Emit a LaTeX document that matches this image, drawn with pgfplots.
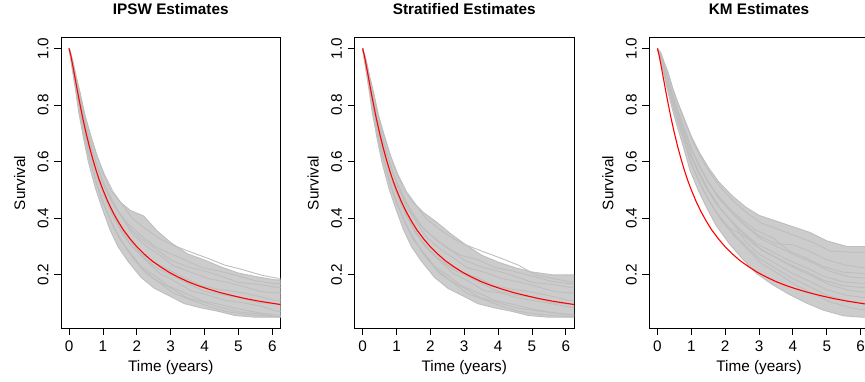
\documentclass[border=0pt]{standalone}
\usepackage{pgfplots}
\pgfplotsset{compat=1.18}
\usepackage{pgfplotstable}
\usepgfplotslibrary{fillbetween}
\usepackage{fontspec}
\setmainfont{Liberation Sans}
\definecolor{rgray}{HTML}{BEBEBE}
\definecolor{bandfill}{HTML}{CCCCCC}

\pgfplotstableread{
t s
0 1
0.05 0.975
0.1 0.944
0.15 0.912
0.2 0.879
0.25 0.846
0.3 0.815
0.4 0.755
0.5 0.701
0.6 0.652
0.7 0.608
0.8 0.568
0.9 0.532
1.0 0.500
1.15 0.457
1.3 0.420
1.45 0.388
1.6 0.359
1.8 0.327
2.0 0.299
2.2 0.275
2.45 0.249
2.7 0.228
2.95 0.209
3.2 0.193
3.5 0.176
3.8 0.162
4.1 0.150
4.45 0.1375
4.8 0.127
5.2 0.116
5.6 0.107
6.0 0.0994
6.24 0.095
}\Red

\pgfplotstableread{
ta tb tc c1 c2 c3 c4 c5 c6 c7 c8 c9 c10 c11 c12
0 0 0 1 1 1 1 1 1 1 1 1 1 1 1
0.10 0.11 0.09 0.959 0.956 0.953 0.950 0.947 0.944 0.941 0.938 0.935 0.932 0.929 0.928
0.20 0.21 0.19 0.904 0.899 0.897 0.887 0.884 0.882 0.874 0.869 0.864 0.859 0.854 0.852
0.30 0.32 0.28 0.850 0.847 0.836 0.829 0.826 0.815 0.812 0.798 0.794 0.784 0.780 0.777
0.45 0.47 0.43 0.768 0.764 0.756 0.748 0.736 0.732 0.720 0.712 0.700 0.696 0.688 0.680
0.60 0.63 0.57 0.702 0.697 0.688 0.670 0.666 0.652 0.643 0.634 0.625 0.612 0.607 0.598
0.80 0.83 0.77 0.628 0.618 0.603 0.593 0.583 0.573 0.563 0.543 0.538 0.528 0.518 0.508
1.00 1.04 0.96 0.560 0.555 0.540 0.530 0.510 0.505 0.490 0.480 0.465 0.460 0.445 0.440
1.25 1.30 1.20 0.495 0.493 0.482 0.460 0.449 0.433 0.416 0.411 0.400 0.383 0.372 0.361
1.50 1.56 1.44 0.458 0.450 0.426 0.414 0.402 0.384 0.366 0.348 0.342 0.324 0.318 0.300
1.80 1.87 1.73 0.428 0.399 0.381 0.363 0.345 0.333 0.309 0.297 0.285 0.279 0.261 0.249
2.20 2.28 2.12 0.408 0.360 0.340 0.321 0.301 0.275 0.262 0.249 0.230 0.217 0.204 0.191
2.60 2.68 2.52 0.355 0.327 0.301 0.288 0.269 0.243 0.223 0.204 0.197 0.178 0.171 0.152
3.00 3.08 2.92 0.314 0.304 0.278 0.252 0.232 0.219 0.200 0.180 0.161 0.154 0.135 0.128
3.50 3.60 3.40 0.274 0.280 0.254 0.228 0.209 0.189 0.170 0.144 0.137 0.118 0.111 0.098
4.00 4.10 3.90 0.252 0.258 0.226 0.213 0.187 0.161 0.141 0.128 0.109 0.102 0.089 0.083
4.50 4.60 4.40 0.227 0.234 0.214 0.195 0.175 0.149 0.130 0.110 0.097 0.084 0.071 0.071
5.00 5.10 4.90 0.206 0.219 0.199 0.173 0.160 0.141 0.121 0.102 0.082 0.069 0.062 0.056
5.60 5.70 5.50 0.192 0.198 0.179 0.166 0.140 0.127 0.101 0.088 0.068 0.062 0.055 0.050
6.10 6.15 6.05 0.182 0.188 0.169 0.156 0.136 0.110 0.097 0.071 0.058 0.052 0.052 0.050
6.24 6.24 6.24 0.182 0.188 0.169 0.156 0.136 0.110 0.097 0.071 0.058 0.052 0.052 0.050
}\Pone

\pgfplotstableread{
ta tb tc c1 c2 c3 c4 c5 c6 c7 c8 c9 c10 c11 c12
0 0 0 1 1 1 1 1 1 1 1 1 1 1 1
0.10 0.11 0.09 0.959 0.956 0.953 0.950 0.947 0.944 0.941 0.938 0.935 0.932 0.929 0.928
0.20 0.21 0.19 0.904 0.899 0.897 0.887 0.884 0.882 0.874 0.869 0.864 0.859 0.854 0.852
0.30 0.32 0.28 0.850 0.847 0.836 0.829 0.826 0.815 0.812 0.798 0.794 0.784 0.780 0.777
0.45 0.47 0.43 0.768 0.764 0.756 0.748 0.736 0.732 0.720 0.712 0.700 0.696 0.688 0.680
0.60 0.63 0.57 0.702 0.697 0.688 0.670 0.666 0.652 0.643 0.634 0.625 0.612 0.607 0.598
0.80 0.83 0.77 0.628 0.618 0.603 0.593 0.583 0.573 0.563 0.543 0.538 0.528 0.518 0.508
1.00 1.04 0.96 0.560 0.555 0.540 0.530 0.510 0.505 0.490 0.480 0.465 0.460 0.445 0.440
1.25 1.30 1.20 0.496 0.493 0.482 0.460 0.440 0.433 0.416 0.411 0.400 0.383 0.372 0.361
1.50 1.56 1.44 0.455 0.450 0.420 0.414 0.392 0.375 0.366 0.348 0.342 0.324 0.318 0.300
1.80 1.87 1.73 0.420 0.399 0.372 0.363 0.335 0.322 0.309 0.297 0.285 0.279 0.261 0.249
2.20 2.28 2.12 0.385 0.360 0.330 0.321 0.292 0.268 0.262 0.249 0.230 0.217 0.204 0.191
2.60 2.68 2.52 0.345 0.327 0.292 0.288 0.260 0.235 0.223 0.204 0.197 0.178 0.171 0.152
3.00 3.08 2.92 0.310 0.304 0.268 0.252 0.225 0.210 0.200 0.180 0.161 0.154 0.135 0.128
3.50 3.60 3.40 0.270 0.280 0.254 0.228 0.209 0.189 0.170 0.144 0.137 0.118 0.111 0.098
4.00 4.10 3.90 0.245 0.258 0.226 0.213 0.187 0.161 0.141 0.135 0.109 0.102 0.089 0.083
4.50 4.60 4.40 0.225 0.234 0.214 0.195 0.175 0.149 0.130 0.118 0.097 0.084 0.071 0.071
5.00 5.10 4.90 0.210 0.200 0.199 0.173 0.160 0.141 0.121 0.108 0.082 0.075 0.062 0.056
5.60 5.70 5.50 0.200 0.185 0.179 0.166 0.140 0.127 0.101 0.095 0.068 0.066 0.055 0.050
6.10 6.15 6.05 0.200 0.175 0.169 0.156 0.136 0.110 0.097 0.085 0.058 0.060 0.052 0.050
6.24 6.24 6.24 0.200 0.175 0.169 0.156 0.136 0.110 0.097 0.085 0.058 0.060 0.052 0.050
}\Ptwo

\pgfplotstableread{
ta tb tc c1 c2 c3 c4 c5 c6 c7 c8 c9 c10 c11 c12
0 0 0 1 1 1 1 1 1 1 1 1 1 1 1
0.10 0.11 0.09 0.985 0.981 0.978 0.976 0.974 0.972 0.970 0.969 0.967 0.965 0.962 0.960
0.20 0.21 0.19 0.950 0.944 0.939 0.935 0.932 0.929 0.927 0.924 0.921 0.918 0.914 0.910
0.30 0.32 0.28 0.920 0.911 0.903 0.897 0.893 0.889 0.885 0.881 0.877 0.872 0.866 0.860
0.45 0.47 0.43 0.860 0.850 0.840 0.833 0.829 0.824 0.819 0.815 0.810 0.804 0.797 0.790
0.60 0.63 0.57 0.810 0.798 0.788 0.780 0.774 0.768 0.764 0.758 0.752 0.746 0.738 0.730
0.80 0.83 0.77 0.750 0.735 0.722 0.712 0.705 0.698 0.692 0.685 0.678 0.670 0.660 0.650
1.00 1.04 0.96 0.690 0.672 0.656 0.644 0.636 0.628 0.620 0.612 0.604 0.594 0.582 0.570
1.25 1.30 1.20 0.630 0.611 0.594 0.581 0.572 0.562 0.555 0.546 0.536 0.526 0.513 0.500
1.50 1.56 1.44 0.580 0.559 0.541 0.527 0.517 0.507 0.499 0.489 0.479 0.468 0.454 0.440
1.80 1.87 1.73 0.530 0.508 0.488 0.473 0.463 0.452 0.443 0.433 0.422 0.410 0.395 0.375
2.20 2.28 2.12 0.480 0.456 0.435 0.419 0.408 0.397 0.387 0.376 0.365 0.352 0.336 0.310
2.60 2.68 2.52 0.440 0.415 0.392 0.375 0.364 0.352 0.318 0.330 0.341 0.304 0.287 0.255
3.00 3.08 2.92 0.410 0.382 0.357 0.338 0.325 0.311 0.273 0.287 0.300 0.258 0.239 0.205
3.50 3.60 3.40 0.390 0.359 0.331 0.310 0.296 0.281 0.239 0.254 0.268 0.222 0.201 0.165
4.00 4.10 3.90 0.370 0.336 0.283 0.306 0.267 0.250 0.204 0.221 0.237 0.186 0.163 0.130
4.50 4.60 4.40 0.350 0.314 0.259 0.283 0.242 0.225 0.177 0.194 0.211 0.158 0.134 0.100
5.00 5.10 4.90 0.320 0.284 0.229 0.253 0.212 0.195 0.147 0.164 0.181 0.128 0.104 0.075
5.60 5.70 5.50 0.300 0.280 0.209 0.233 0.192 0.175 0.127 0.144 0.161 0.108 0.084 0.055
6.10 6.15 6.05 0.300 0.280 0.205 0.225 0.188 0.170 0.120 0.138 0.155 0.100 0.075 0.050
6.24 6.24 6.24 0.300 0.280 0.205 0.225 0.188 0.170 0.120 0.138 0.155 0.100 0.075 0.050
}\Pthree

\pgfplotsset{
  survax/.style={
    scale only axis, width=219.5pt, height=290.3pt,
    xmin=-0.24, xmax=6.24, ymin=0.012, ymax=1.038,
    xtick={0,1,2,3,4,5,6}, ytick={0.2,0.4,0.6,0.8,1.0},
    tick align=outside, tick pos=left, major tick length=7pt,
    axis line style={line width=0.9pt},
    every tick/.style={black, line width=0.9pt},
    /pgf/number format/assume math mode=true,
    ticklabel style={font=\fontsize{15.3}{18}\selectfont},
    yticklabel style={/pgf/number format/.cd, fixed, fixed zerofill, precision=1, /tikz/.cd, rotate=90, anchor=base},
    xticklabel style={anchor=base},
    xticklabel shift=16pt, yticklabel shift=5.7pt,
    label style={font=\fontsize{15.3}{18}\selectfont},
    xlabel={Time (years)}, ylabel={Survival},
    xlabel style={at={(axis description cs:0.5,-0.1505)}, anchor=base},
    ylabel style={at={(axis description cs:-0.164,0.5)}, anchor=base},
    title style={at={(axis description cs:0.5,1.0592)}, anchor=base, font=\fontsize{15.3}{18}\selectfont\bfseries},
  },
  gl/.style={rgray, line width=0.9pt, forget plot},
  env/.style={draw=none, forget plot},
  redl/.style={red, line width=1.1pt, forget plot},
}

\newcommand\grayset[1]{%
  \addplot[env, name path=up] table[x=ta, y=c1]{#1};
  \addplot[env, name path=lo] table[x=tc, y=c12]{#1};
  \addplot[fill=bandfill, draw=none, forget plot] fill between[of=up and lo];
  \addplot[gl] table[x=ta, y=c1]{#1};
  \addplot[gl] table[x=tb, y=c2]{#1};
  \addplot[gl] table[x=tc, y=c3]{#1};
  \addplot[gl] table[x=ta, y=c4]{#1};
  \addplot[gl] table[x=tb, y=c5]{#1};
  \addplot[gl] table[x=tc, y=c6]{#1};
  \addplot[gl] table[x=ta, y=c7]{#1};
  \addplot[gl] table[x=tb, y=c8]{#1};
  \addplot[gl] table[x=tc, y=c9]{#1};
  \addplot[gl] table[x=ta, y=c10]{#1};
  \addplot[gl] table[x=tb, y=c11]{#1};
  \addplot[gl] table[x=tc, y=c12]{#1};
  \addplot[redl] table[x=t, y=s]{\Red};
}

\begin{document}
\begin{tikzpicture}
\begin{axis}[survax, at={(61pt,53pt)}, anchor=south west, title={IPSW Estimates}]
\grayset{\Pone}
\end{axis}
\begin{axis}[survax, at={(354.5pt,53pt)}, anchor=south west, title={Stratified Estimates}]
\grayset{\Ptwo}
\end{axis}
\begin{axis}[survax, at={(649.3pt,53pt)}, anchor=south west, title={KM Estimates}]
\grayset{\Pthree}
\end{axis}
\pgfresetboundingbox
\path[use as bounding box] (0,0) rectangle (865pt,381pt);
\end{tikzpicture}
\end{document}
